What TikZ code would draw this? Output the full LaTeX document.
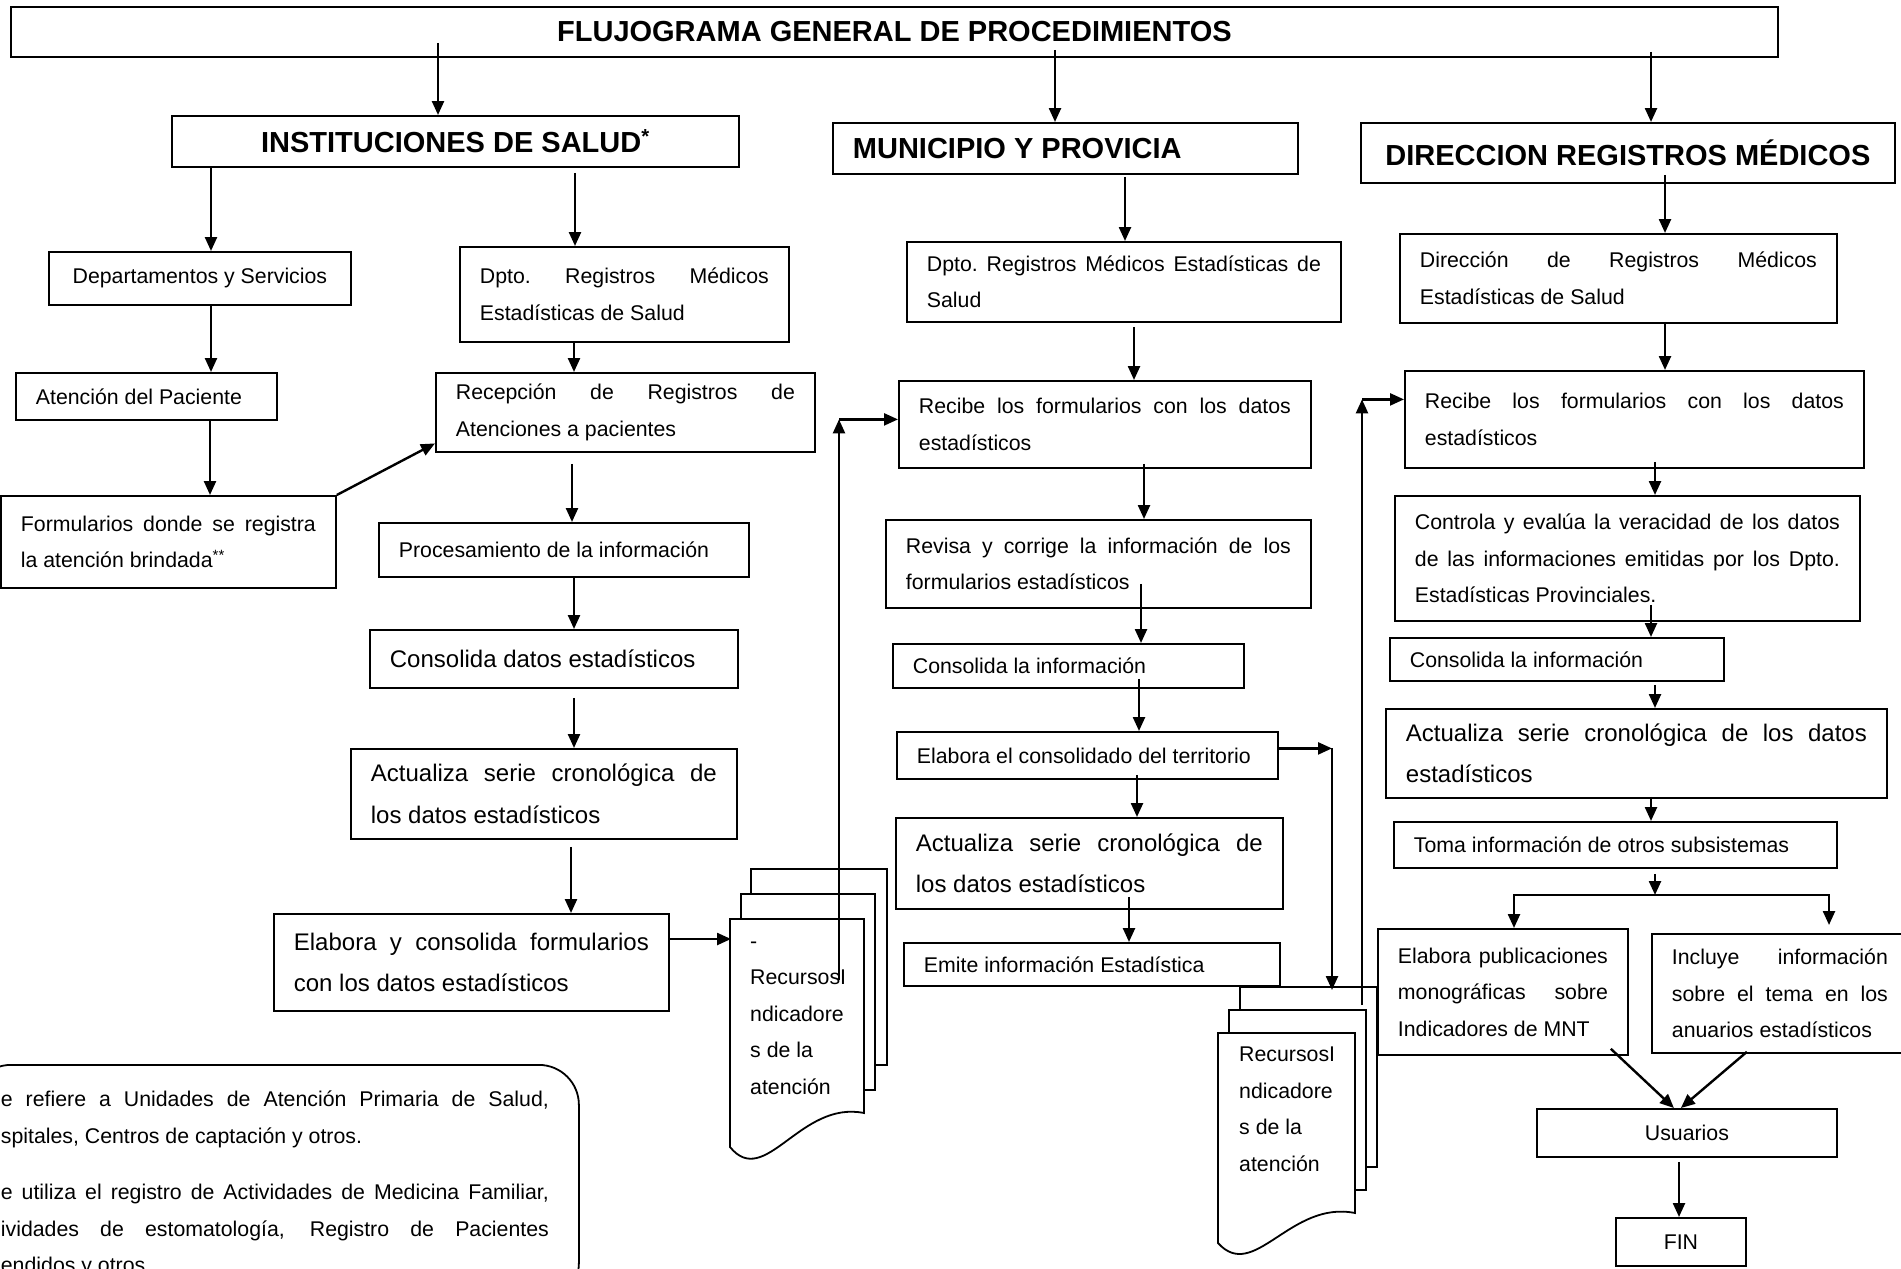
\documentclass[tikz,border=0pt]{standalone}
\usepackage{fontspec}
\setmainfont{Liberation Sans}
\usetikzlibrary{arrows.meta, calc}
\setlength{\parindent}{0pt}
\newcommand{\jline}[1]{\leavevmode\hbox to\hsize{\spaceskip=.278em plus 1fil\xspaceskip=\spaceskip #1}}

\begin{document}
\begin{tikzpicture}[x=1pt, y=-1pt,
  every node/.style={font=\fontsize{21.3pt}{36.5pt}\selectfont},
  box/.style={draw, line width=1.8pt, fill=white, anchor=north west, inner xsep=20pt, inner ysep=0pt, align=flush left},
  big/.style={font=\fontsize{24pt}{41.3pt}\selectfont},
  head/.style={draw, line width=1.8pt, fill=white, anchor=north west, inner sep=0pt, font=\fontsize{29pt}{35pt}\selectfont\bfseries},
  page/.style={draw, line width=1.8pt, fill=white},
  ar/.style={-{Triangle[length=14pt, width=12pt]}, line width=2.4pt}
]
\useasboundingbox (0,0) rectangle (1901,1269);

\node[head, minimum width=1767pt, minimum height=50pt] (titulo) at (10,6) {FLUJOGRAMA GENERAL DE PROCEDIMIENTOS};
\node[head, minimum width=567pt, minimum height=51pt] (inst) at (171,115) {INSTITUCIONES DE SALUD\textsuperscript{*}};
\node[head, text width=425pt, inner xsep=20pt, minimum height=51pt, align=flush left] (muni) at (832,122) {MUNICIPIO Y PROVICIA};
\node[head, minimum width=534pt, minimum height=60pt] (direc) at (1360,122) {DIRECCION REGISTROS MÉDICOS};

\node[box, minimum width=302pt, minimum height=53pt, align=center] (deptos) at (48,251) {Departamentos y Servicios};
\node[box, text width=289pt, minimum height=95pt] (dptoA) at (459,246) {\jline{Dpto. Registros Médicos}\\Estadísticas de Salud};
\node[box, text width=221pt, minimum height=47pt] (atencion) at (15,372) {Atención del Paciente};
\node[box, text width=295pt, minimum height=92pt] (formularios) at (0,495) {\jline{Formularios donde se registra}\\la atención brindada\textsuperscript{**}};
\node[box, text width=339pt, minimum height=79pt] (recepcion) at (435,372) {\jline{Recepción de Registros de}\\Atenciones a pacientes};
\node[box, text width=330pt, minimum height=54pt] (proceso) at (378,522) {Procesamiento de la información};
\node[box, big, text width=328pt, minimum height=58pt] (consolA) at (369,629) {Consolida datos estadísticos};
\node[box, big, text width=346pt, minimum height=90pt] (actualA) at (350,748) {\jline{Actualiza serie cronológica de}\\los datos estadísticos};
\node[box, big, text width=355pt, minimum height=97pt] (elaboraA) at (273,913) {\jline{Elabora y consolida formularios}\\con los datos estadísticos};

\node[box, text width=394pt, minimum height=80pt] (dptoB) at (906,241) {\jline{Dpto. Registros Médicos Estadísticas de}\\Salud};
\node[box, text width=372pt, minimum height=87pt] (recibeB) at (898,380) {\jline{Recibe los formularios con los datos}\\estadísticos};
\node[box, text width=385pt, minimum height=88pt] (revisa) at (885,519) {\jline{Revisa y corrige la información de los}\\formularios estadísticos};
\node[box, text width=311pt, minimum height=44pt] (consolB) at (892,643) {Consolida la información};
\node[box, text width=341pt, minimum height=47pt] (territorio) at (896,731) {Elabora el consolidado del territorio};
\node[box, big, text width=347pt, minimum height=91pt] (actualB) at (895,817) {\jline{Actualiza serie cronológica de}\\los datos estadísticos};
\node[box, text width=336pt, minimum height=43pt] (emite) at (903,942) {Emite información Estadística};

\node[box, text width=397pt, minimum height=89pt] (direccion) at (1399,233) {\jline{Dirección de Registros Médicos}\\Estadísticas de Salud};
\node[box, text width=419pt, minimum height=97pt] (recibeC) at (1404,370) {\jline{Recibe los formularios con los datos}\\estadísticos};
\node[box, text width=425pt, minimum height=125pt] (controla) at (1394,495) {\jline{Controla y evalúa la veracidad de los datos}\\\jline{de las informaciones emitidas por los Dpto.}\\Estadísticas Provinciales.};
\node[box, text width=294pt, minimum height=43pt] (consolC) at (1389,637) {Consolida la información};
\node[box, big, text width=461pt, minimum height=89pt] (actualC) at (1385,708) {\jline{Actualiza serie cronológica de los datos}\\estadísticos};
\node[box, text width=403pt, minimum height=46pt] (toma) at (1393,821) {Toma información de otros subsistemas};
\node[box, text width=210pt, minimum height=126pt] (publica) at (1377,928) {\jline{Elabora publicaciones}\\\jline{monográficas sobre}\\Indicadores de MNT};
\node[box, text width=216pt, minimum height=119pt] (anuarios) at (1651,933) {\jline{Incluye información}\\\jline{sobre el tema en los}\\anuarios estadísticos};
\node[box, minimum width=300pt, minimum height=48pt, align=center] (usuarios) at (1536,1108) {Usuarios};
\node[box, minimum width=130pt, minimum height=48pt, align=center] (fin) at (1615,1217) {FIN};

\node[box, rounded corners=40pt, text width=548pt, inner xsep=30pt, inner ysep=26pt] (notas) at (-30,1064) {\jline{e refiere a Unidades de Atención Primaria de Salud,}\\spitales, Centros de captación y otros.\\[20pt]\jline{e utiliza el registro de Actividades de Medicina Familiar,}\\\jline{ividades de estomatología, Registro de Pacientes}\\endidos y otros.};

\draw[page] (751,869) rectangle (887,1065);
\draw[page] (741,894) rectangle (875,1090);
\draw[page] (730,919) -- (864,919) -- (864,1113) .. controls (800,1100) and (765,1190) .. (730,1147) -- cycle;
\node[anchor=base west, inner sep=0pt, align=left] (recursosA) at (750,1094) {-\\RecursosI\\ndicadore\\s de la\\atención};

\draw[page] (1240,987) rectangle (1377,1167);
\draw[page] (1229,1010) rectangle (1366,1190);
\draw[page] (1218,1033) -- (1355,1033) -- (1355,1213) .. controls (1290,1200) and (1254,1283) .. (1218,1243) -- cycle;
\node[anchor=base west, inner sep=0pt, align=left] (recursosB) at (1239,1171) {RecursosI\\ndicadore\\s de la\\atención};

\coordinate (entradaA) at (731,939);
\coordinate (salidaA) at (839,980);
\coordinate (entradaB) at (1332,990);
\coordinate (salidaB) at (1362,1005);
\coordinate (reparto) at (1655,895);
\coordinate (llegaB) at ([yshift=5pt]recibeB.west);
\coordinate (llegaC) at ([yshift=20pt]recibeC.west);
\coordinate (saleT) at ([yshift=7pt]territorio.east);

\foreach \a/\b/\x/\s in {titulo/inst/438/-15, titulo/muni/1055/-8, titulo/direc/1651/-6,
  inst/deptos/211/0, deptos/atencion/211/0, atencion/formularios/210/0,
  inst/dptoA/575/5, dptoA/recepcion/574/0, recepcion/proceso/572/11, proceso/consolA/574/0,
  consolA/actualA/574/9, actualA/elaboraA/571/7,
  muni/dptoB/1125/2, dptoB/recibeB/1134/4, recibeB/revisa/1144/-5, revisa/consolB/1141/-25,
  consolB/territorio/1139/-10, territorio/actualB/1137/-5, actualB/emite/1129/-13,
  direc/direccion/1665/-9, direccion/recibeC/1665/-2, recibeC/controla/1655/-7,
  controla/consolC/1651/-17, consolC/actualC/1655/3, actualC/toma/1651/-2, usuarios/fin/1679/4}
  \draw[ar] ($(\a.south -| \x,0)+(0,\s)$) -- (\b.north -| \x,0);

\draw[ar] (formularios.north east) -- ([yshift=-31pt]recepcion.west);
\draw[ar] (elaboraA.east |- entradaA) -- (entradaA);
\draw[ar] (salidaA) -- (salidaA |- llegaB);
\draw[ar] (salidaA |- llegaB) -- (llegaB);
\draw[ar] (saleT) -- (saleT -| entradaB);
\draw[ar] (saleT -| entradaB) -- (entradaB);
\draw[ar] (salidaB) -- (salidaB |- llegaC);
\draw[ar] (salidaB |- llegaC) -- (llegaC);
\draw[ar] ($(toma.south -| reparto)+(0,5)$) -- (reparto);
\draw[ar] (reparto) -| (publica.north -| 1514,0);
\draw[ar] (reparto) -| ($(anuarios.north -| 1829,0)+(0,-8)$);
\draw[ar] ([xshift=-18pt, yshift=7pt]publica.south east) -- ([xshift=-13pt]usuarios.north);
\draw[ar] ([xshift=-33pt, yshift=2pt]anuarios.south) -- ([xshift=-6pt]usuarios.north);
\end{tikzpicture}
\end{document}
